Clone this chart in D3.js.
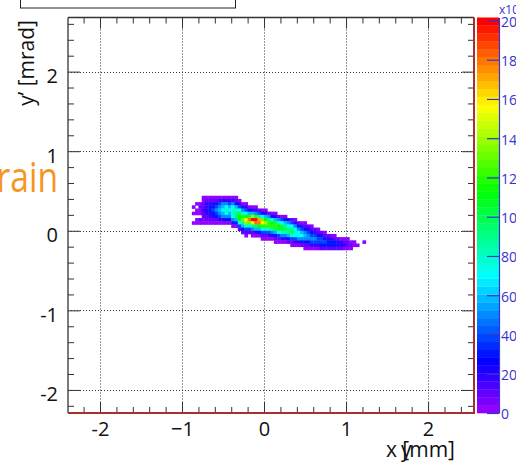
<!DOCTYPE html>
<html>
<head>
<meta charset="utf-8">
<script src="https://cdn.jsdelivr.net/npm/d3@7"></script>
<style>
  body { margin: 0; background: white; }
  svg { display: block; font-family: "Open Sans", "DejaVu Sans", sans-serif; }
</style>
</head>
<body>
<script>
/*
2D histogram y' versus x (colz style), with colour palette axis
*/

// binning of the histogram
var xStart = -0.88;
var xBinWidth = 0.04;
var yTop = 0.44;
var yBinHeight = 0.04;

// bin content for each level character (0-9, a-k), in units of 10^3
var levelValues = [3, 10, 20, 30, 40, 50, 60, 70, 80, 90, 100,
                   110, 120, 130, 140, 150, 160, 170, 180, 190, 200];

// one string per x bin, going from high y' to low y'
// each character is a level (see levelValues), "." is an empty bin
var columns = [
  "...0.0..0.........",
  "..0.00.00.........",
  "..0100.10.........",
  "001121100.........",
  "012222110.........",
  "012332210.........",
  "012343210.........",
  "013454310.........",
  "024565420.........",
  "025676520.........",
  "025787530.........",
  "024676530.........",
  "0257887530........",
  "013689a630........",
  ".0247abb741.......",
  "..0358cd9631......",
  "..0247bfe8410.....",
  "...036cid841......",
  "...026ekf9510.....",
  "...025ckia620.....",
  "....149hib630.....",
  "....037dgc7410....",
  "....026bec8410....",
  ".....159cc8420....",
  ".....038bc9520....",
  ".....026aca6310...",
  "......158bb7410...",
  "......047ab8520...",
  "......0369a8520...",
  ".......25799631...",
  ".......1479a8410..",
  ".......025787420..",
  "........13577520..",
  "........02467531..",
  "........013565310.",
  ".........12455310.",
  ".........01345420.",
  "..........1245420.",
  "..........0134420.",
  "...........124431.",
  "...........013431.",
  "............12331.",
  "............02331.",
  "............01331.",
  ".............1231.",
  ".............0221.",
  ".............0120.",
  ".............0110.",
  "..............010.",
  "..............00..",
  "...............0..",
  "..................",
  "..............0..."
];

// axis ticks and labels
var xTicks = [-2, -1, 0, 1, 2];
var xTickLabels = ["-2", "\u22121", "0", "1", "2"];
var yTicks = [-2, -1, 0, 1, 2];
var yTickLabels = ["-2", "-1", "0", "1", "2"];
var zTicks = [0, 20, 40, 60, 80, 100, 120, 140, 160, 180, 200];
var zMax = 201.5;
var nColors = 50;

// frame of the plot in pixels
var frame = {left: 68, right: 474, top: 17.5, bottom: 413};
var paletteBox = {left: 477, right: 499};

var svg = d3.select("body")
            .append("svg")
            .attr("width", 516)
            .attr("height", 465);

var xScale = d3.scaleLinear()
               .domain([-2.39, 2.56])
               .range([frame.left, frame.right]);
var yScale = d3.scaleLinear()
               .domain([-2.29, 2.68])
               .range([frame.bottom, frame.top]);
var zScale = d3.scaleLinear()
               .domain([0, zMax])
               .range([frame.bottom, frame.top]);

function paletteColor(k) {
  // ROOT "pretty" palette: violet to red
  return d3.hsl(280 - (k + 1) * (280 / nColors), 1, 0.5).formatHex();
}

function colorOf(v) {
  var k = Math.floor(v / zMax * nColors);
  return paletteColor(Math.max(0, Math.min(nColors - 1, k)));
}

function drawGrid() {
  var grid = svg.append("g")
                .attr("stroke", "#333")
                .attr("stroke-width", 1)
                .attr("stroke-dasharray", "1,2");
  grid.selectAll(".gx")
      .data(xTicks)
      .enter()
      .append("line")
      .attr("x1", function(d) { return Math.round(xScale(d)) + 0.5; })
      .attr("x2", function(d) { return Math.round(xScale(d)) + 0.5; })
      .attr("y1", frame.top)
      .attr("y2", frame.bottom);
  grid.selectAll(".gy")
      .data(yTicks)
      .enter()
      .append("line")
      .attr("y1", function(d) { return Math.round(yScale(d)) + 0.5; })
      .attr("y2", function(d) { return Math.round(yScale(d)) + 0.5; })
      .attr("x1", frame.left)
      .attr("x2", frame.right);
}

function drawHistogram() {
  var cells = [];
  columns.forEach(function(col, i) {
    for (var j = 0; j < col.length; j++) {
      if (col[j] === ".") continue;
      cells.push({
        x0: xStart + i * xBinWidth,
        y1: yTop - j * yBinHeight,
        v: levelValues[parseInt(col[j], 36)]
      });
    }
  });

  svg.append("g")
     .selectAll("rect")
     .data(cells)
     .enter()
     .append("rect")
     .attr("x", function(d) { return xScale(d.x0); })
     .attr("y", function(d) { return yScale(d.y1); })
     .attr("width", function(d) {
       return xScale(d.x0 + xBinWidth) - xScale(d.x0) + 0.4;
     })
     .attr("height", function(d) {
       return yScale(d.y1 - yBinHeight) - yScale(d.y1) + 0.4;
     })
     .attr("fill", function(d) { return colorOf(d.v); });
}

function styleAxis(g, color) {
  g.select(".domain").remove();
  g.selectAll("line").attr("stroke", color);
  g.attr("font-family", null).attr("font-size", null);
}

function drawAxes() {
  var xMinor = d3.range(-2.2, 2.5, 0.2).filter(function(d) {
    return Math.abs(d - Math.round(d)) > 0.01;
  });
  var yMinor = d3.range(-2.2, 2.7, 0.2).filter(function(d) {
    return Math.abs(d - Math.round(d)) > 0.01;
  });

  // bottom axis with labels
  var gx = svg.append("g")
              .attr("transform", "translate(0," + frame.bottom + ")")
              .call(d3.axisBottom(xScale)
                      .tickValues(xTicks)
                      .tickSize(-11)
                      .tickPadding(9)
                      .tickFormat(function(d, i) { return xTickLabels[i]; }));
  styleAxis(gx, "#333");
  gx.selectAll("text").attr("font-size", 20).attr("fill", "#111");

  svg.append("g")
     .attr("transform", "translate(0," + frame.bottom + ")")
     .call(d3.axisBottom(xScale).tickValues(xMinor).tickSize(-6).tickFormat(""))
     .call(styleAxis, "#333");

  // top axis, ticks only
  svg.append("g")
     .attr("transform", "translate(0," + frame.top + ")")
     .call(d3.axisTop(xScale).tickValues(xTicks).tickSize(-11).tickFormat(""))
     .call(styleAxis, "#333");
  svg.append("g")
     .attr("transform", "translate(0," + frame.top + ")")
     .call(d3.axisTop(xScale).tickValues(xMinor).tickSize(-6).tickFormat(""))
     .call(styleAxis, "#333");

  // left axis with labels
  var gy = svg.append("g")
              .attr("transform", "translate(" + frame.left + ",0)")
              .call(d3.axisLeft(yScale)
                      .tickValues(yTicks)
                      .tickSize(-12)
                      .tickPadding(10)
                      .tickFormat(function(d, i) { return yTickLabels[i]; }));
  styleAxis(gy, "#333");
  gy.selectAll("text")
    .attr("font-size", 20)
    .attr("fill", "#111")
    .attr("dy", "0.54em");

  svg.append("g")
     .attr("transform", "translate(" + frame.left + ",0)")
     .call(d3.axisLeft(yScale).tickValues(yMinor).tickSize(-6).tickFormat(""))
     .call(styleAxis, "#333");

  // right axis, ticks only
  svg.append("g")
     .attr("transform", "translate(" + frame.right + ",0)")
     .call(d3.axisRight(yScale).tickValues(yTicks).tickSize(-12).tickFormat(""))
     .call(styleAxis, "#333");
  svg.append("g")
     .attr("transform", "translate(" + frame.right + ",0)")
     .call(d3.axisRight(yScale).tickValues(yMinor).tickSize(-6).tickFormat(""))
     .call(styleAxis, "#333");

  // frame: dark lines left/top, red lines right/bottom
  svg.append("line")
     .attr("x1", frame.left).attr("x2", frame.left)
     .attr("y1", frame.top).attr("y2", frame.bottom)
     .attr("stroke", "#333").attr("stroke-width", 1.3);
  svg.append("line")
     .attr("x1", frame.left).attr("x2", frame.right)
     .attr("y1", frame.top).attr("y2", frame.top)
     .attr("stroke", "#333").attr("stroke-width", 1.3);
  svg.append("line")
     .attr("x1", frame.right).attr("x2", frame.right)
     .attr("y1", frame.top).attr("y2", frame.bottom + 1)
     .attr("stroke", "#a8302c").attr("stroke-width", 2);
  svg.append("line")
     .attr("x1", frame.left).attr("x2", frame.right)
     .attr("y1", frame.bottom).attr("y2", frame.bottom)
     .attr("stroke", "#a8302c").attr("stroke-width", 2);
}

function drawPalette() {
  var bands = d3.range(nColors);
  svg.append("g")
     .selectAll("rect")
     .data(bands)
     .enter()
     .append("rect")
     .attr("x", paletteBox.left)
     .attr("width", paletteBox.right - paletteBox.left)
     .attr("y", function(k) { return zScale(zMax * (k + 1) / nColors); })
     .attr("height", function(k) {
       return zScale(zMax * k / nColors) - zScale(zMax * (k + 1) / nColors) + 0.3;
     })
     .attr("fill", function(k) { return paletteColor(k); });

  var blue = "#3434d0";
  var gz = svg.append("g")
              .attr("transform", "translate(" + paletteBox.right + ",0)")
              .call(d3.axisRight(zScale)
                      .tickValues(zTicks)
                      .tickSize(-12)
                      .tickSizeOuter(0)
                      .tickPadding(2));
  gz.attr("font-family", null).attr("font-size", null);
  gz.select(".domain").attr("stroke", blue).attr("stroke-width", 1.2);
  gz.selectAll("line").attr("stroke", blue).attr("stroke-width", 1.2);
  gz.selectAll("text")
    .attr("fill", blue)
    .attr("font-size", 14)
    .attr("dy", "0.42em");

  svg.append("text")
     .attr("x", paletteBox.right)
     .attr("y", 14)
     .attr("font-size", 12)
     .attr("fill", blue)
     .text("x10\u00b3");
}

function drawTitles() {
  // y axis title
  svg.append("text")
     .attr("transform", "translate(34,20) rotate(-90)")
     .attr("text-anchor", "end")
     .attr("font-size", 21)
     .attr("fill", "#111")
     .text("y\u2019 [mrad]");

  // x axis title (with the stray y on top of the bracket)
  svg.append("text")
     .attr("x", 455)
     .attr("y", 457)
     .attr("text-anchor", "end")
     .attr("font-size", 21)
     .attr("fill", "#111")
     .text("x [mm]");
  svg.append("text")
     .attr("x", 401)
     .attr("y", 457)
     .attr("font-size", 21)
     .attr("fill", "#111")
     .text("y");

  // orange word from the slide behind the plot
  svg.append("text")
     .attr("transform", "translate(58,192) scale(0.8,1)")
     .attr("text-anchor", "end")
     .attr("font-size", 42)
     .attr("fill", "#f5961e")
     .text("rain");

  // bottom of the statistics box above the plot
  svg.append("rect")
     .attr("x", 20.5)
     .attr("y", -10)
     .attr("width", 215)
     .attr("height", 18)
     .attr("fill", "white")
     .attr("stroke", "#222")
     .attr("stroke-width", 1);
}

drawGrid();
drawHistogram();
drawAxes();
drawPalette();
drawTitles();
</script>
</body>
</html>
